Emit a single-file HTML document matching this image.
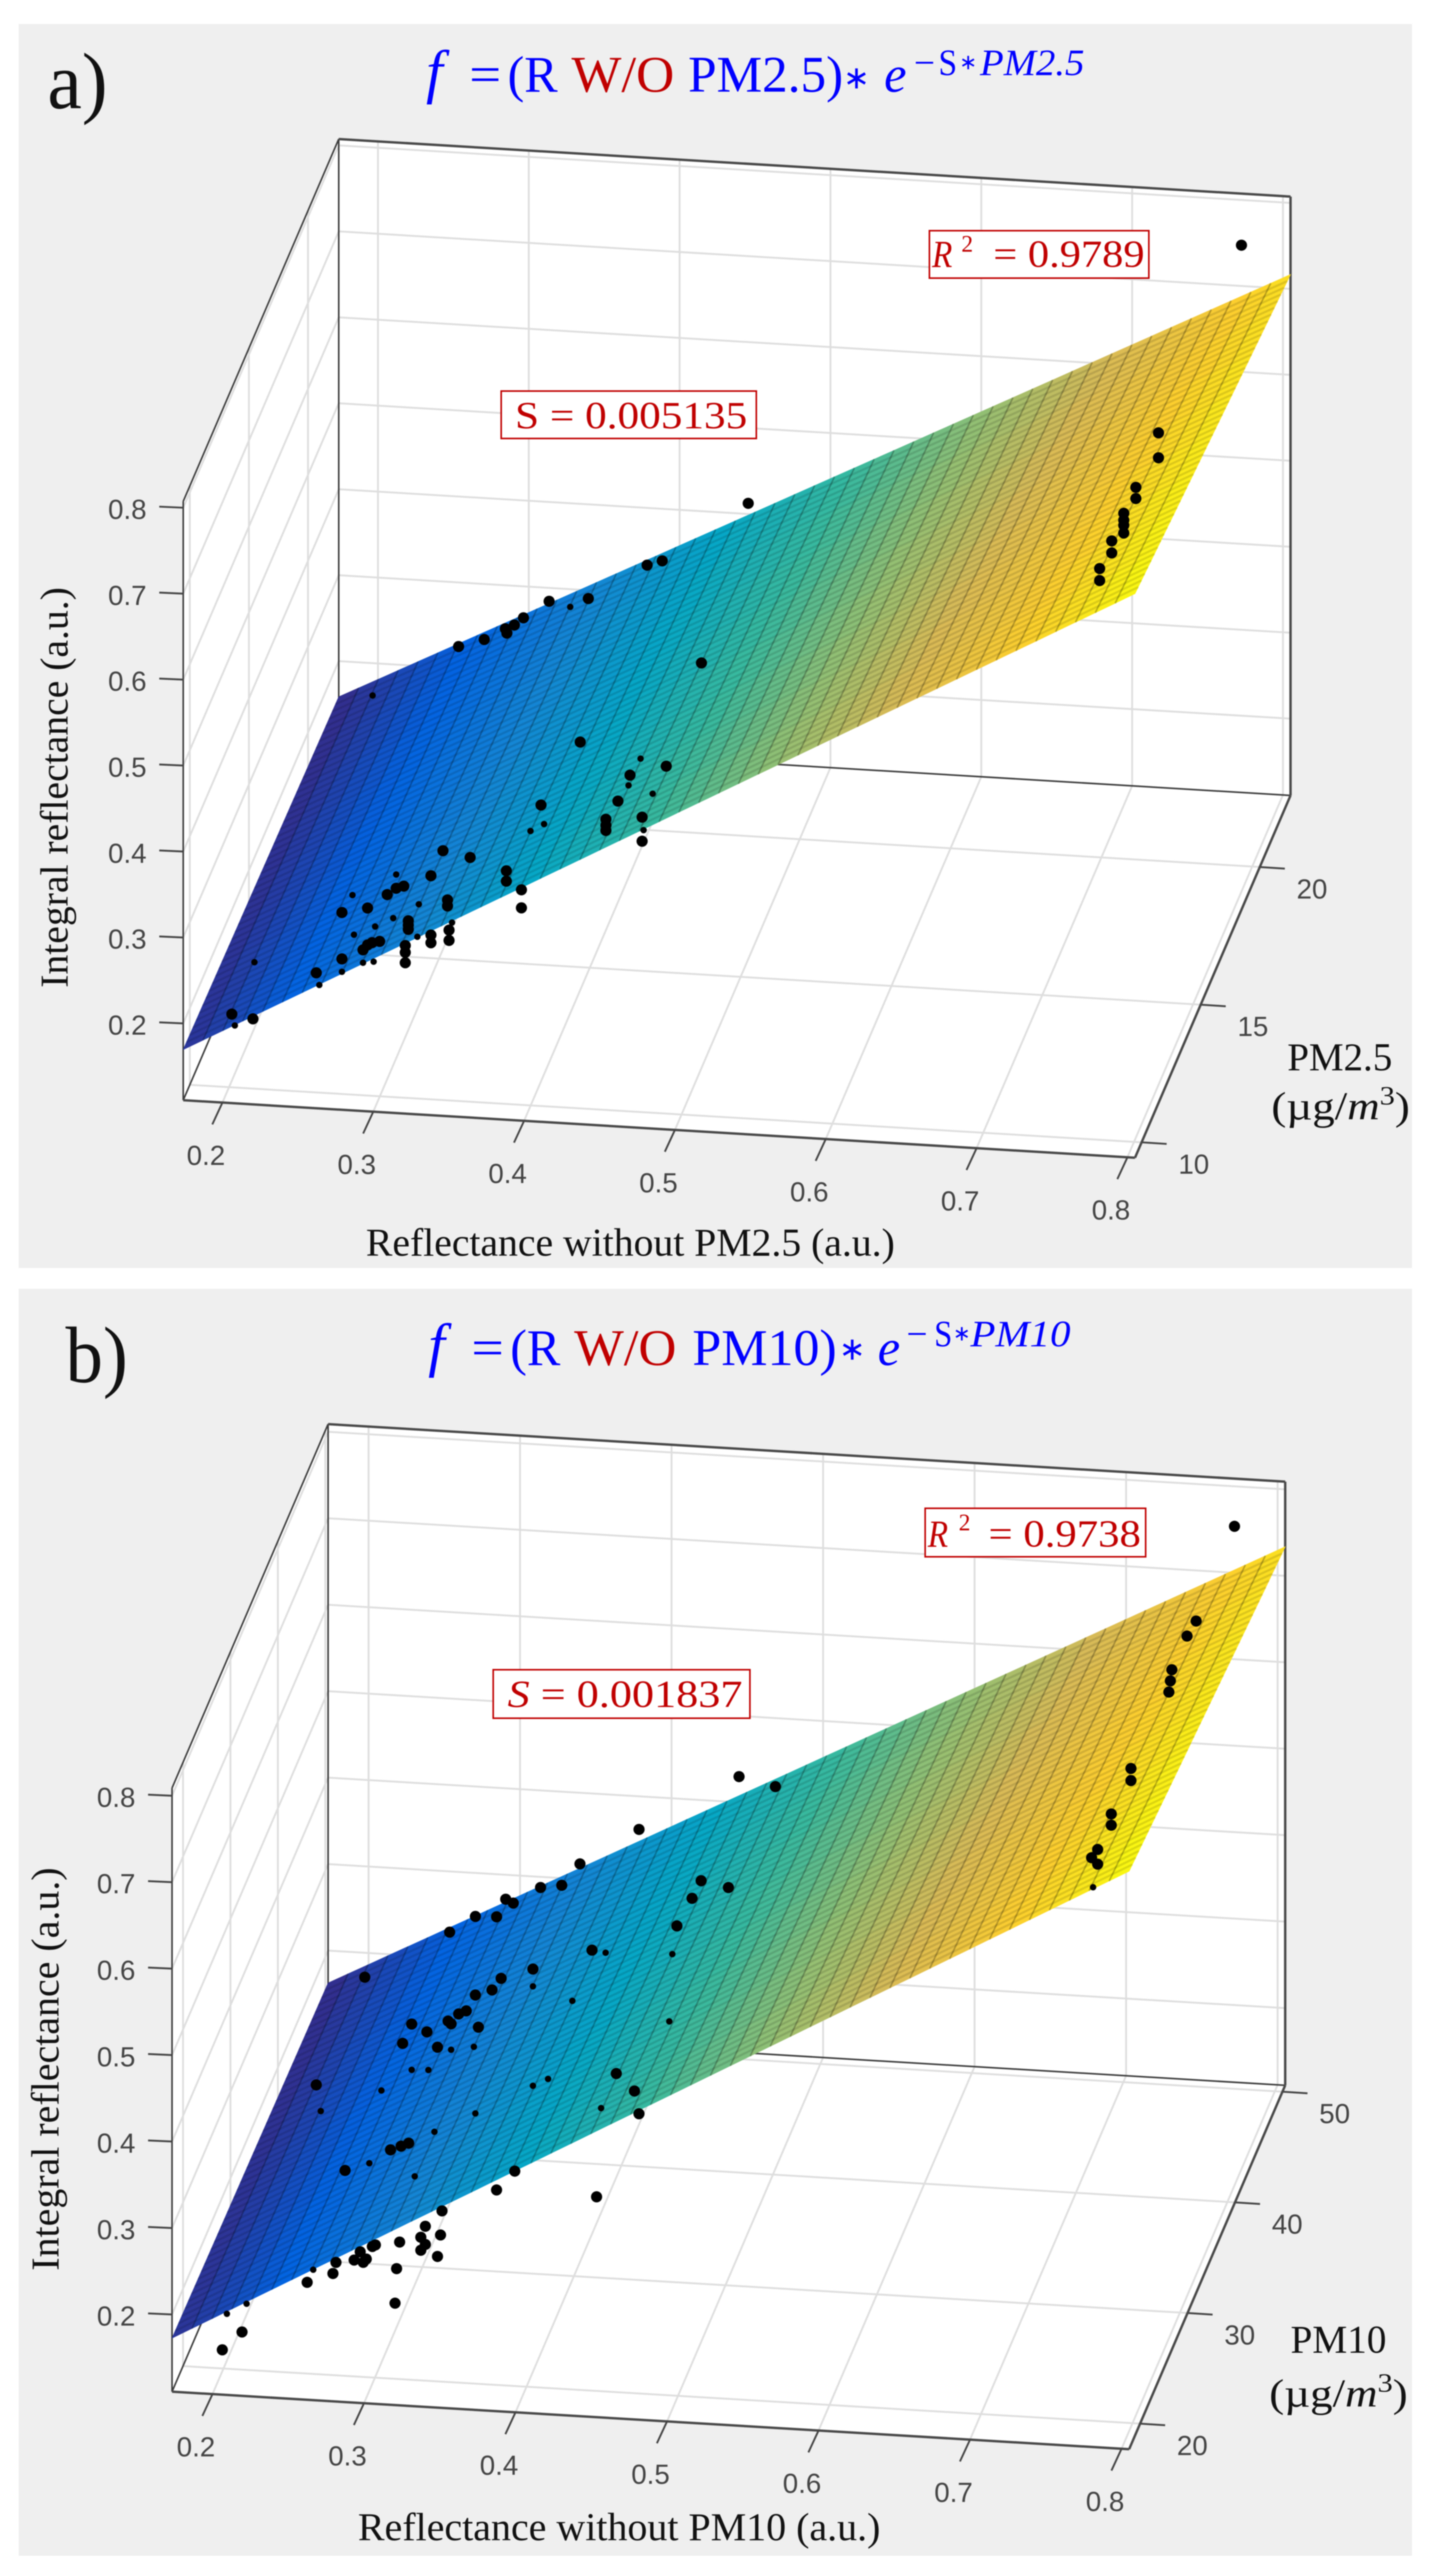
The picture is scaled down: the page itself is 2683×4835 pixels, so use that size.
<!DOCTYPE html>
<html lang="en">
<head>
<meta charset="utf-8">
<title>Integral reflectance fit surfaces for PM2.5 and PM10</title>
<style>
html,body{margin:0;padding:0;background:#fff}
svg{display:block;filter:blur(1px)}
.tk{font-family:"Liberation Sans",sans-serif;font-size:52px;fill:#444;text-anchor:middle}
.at{font-family:"Liberation Serif",serif;font-size:74px;fill:#111}
.ttl{font-family:"Liberation Serif",serif;font-size:96px}
.fn{font-family:"Liberation Serif",serif;font-size:112px;font-style:italic;fill:#0000ff}
.star{font-family:"DejaVu Sans",sans-serif;font-size:60px;fill:#0000ff}
.sup{font-family:"Liberation Serif",serif;font-size:70px;fill:#0000ff}
.supstar{font-family:"DejaVu Sans",sans-serif;font-size:40px;fill:#0000ff}
.blue{fill:#0000ff}.red{fill:#c00000}
.ann{font-family:"Liberation Serif",serif;font-size:72px;fill:#c00000}
.box{fill:#fff;stroke:#c00000;stroke-width:3}
.lab{font-family:"Liberation Serif",serif;font-size:150px;fill:#111}
</style>
</head>
<body>
<svg id="chart" xmlns="http://www.w3.org/2000/svg" width="2683" height="4835" viewBox="0 0 2683 4835">
  <rect x="0" y="0" width="2683" height="4835" fill="#ffffff"/>
  <rect x="35" y="45" width="2616" height="2335" fill="#efefef"/>
  <rect x="35" y="2419" width="2616" height="2378" fill="#efefef"/>
  <g id="plotA"></g>
  <g id="plotB"></g>

  <g>
    <text class="lab" x="89" y="203" textLength="113" lengthAdjust="spacingAndGlyphs">a)</text>
    <g>
      <text class="fn" x="800" y="172">f</text>
      <text class="ttl blue" x="881" y="172" textLength="60" lengthAdjust="spacingAndGlyphs">=</text>
      <text class="ttl blue" x="953" y="172" textLength="94" lengthAdjust="spacingAndGlyphs">(R</text>
      <text class="ttl red" x="1073" y="172" textLength="193" lengthAdjust="spacingAndGlyphs">W/O</text>
      <text class="ttl blue" x="1292" y="172" textLength="291" lengthAdjust="spacingAndGlyphs">PM2.5)</text>
      <text class="star" x="1583" y="166">∗</text>
      <text class="ttl blue" x="1660" y="172" font-style="italic" textLength="42" lengthAdjust="spacingAndGlyphs">e</text>
      <text class="sup" x="1716" y="141">−</text>
      <text class="sup" x="1762" y="141" textLength="35" lengthAdjust="spacingAndGlyphs">S</text>
      <text class="supstar" x="1801" y="130">∗</text>
      <text class="sup" x="1840" y="141" font-style="italic" textLength="196" lengthAdjust="spacingAndGlyphs">PM2.5</text>
    </g>
    <rect class="box" x="1745" y="433" width="412" height="89"/>
    <text class="ann" x="1750" y="501" font-style="italic" textLength="38" lengthAdjust="spacingAndGlyphs">R</text>
    <text class="ann" x="1805" y="472" style="font-size:44px">2</text>
    <text class="ann" x="1865" y="501" textLength="284" lengthAdjust="spacingAndGlyphs">= 0.9789</text>
    <rect class="box" x="941" y="734" width="479" height="89"/>
    <text class="ann" x="967" y="804" textLength="436" lengthAdjust="spacingAndGlyphs">S = 0.005135</text>
    <text class="at" x="687" y="2357" textLength="993" lengthAdjust="spacingAndGlyphs">Reflectance without PM2.5 (a.u.)</text>
    <text class="at" transform="translate(127,1854) rotate(-90)" textLength="752" lengthAdjust="spacingAndGlyphs">Integral reflectance (a.u.)</text>
    <text class="at" x="2417" y="2009" textLength="197" lengthAdjust="spacingAndGlyphs">PM2.5</text>
    <text class="at" x="2387" y="2101" textLength="260" lengthAdjust="spacingAndGlyphs">(µg/<tspan font-style="italic">m</tspan><tspan dy="-28" style="font-size:50px">3</tspan><tspan dy="28">)</tspan></text>
  </g>

  <g>
    <text class="lab" x="123" y="2594" textLength="117" lengthAdjust="spacingAndGlyphs">b)</text>
    <g>
      <text class="fn" x="804" y="2562">f</text>
      <text class="ttl blue" x="885" y="2562" textLength="61" lengthAdjust="spacingAndGlyphs">=</text>
      <text class="ttl blue" x="958" y="2562" textLength="94" lengthAdjust="spacingAndGlyphs">(R</text>
      <text class="ttl red" x="1078" y="2562" textLength="192" lengthAdjust="spacingAndGlyphs">W/O</text>
      <text class="ttl blue" x="1300" y="2562" textLength="271" lengthAdjust="spacingAndGlyphs">PM10)</text>
      <text class="star" x="1575" y="2552">∗</text>
      <text class="ttl blue" x="1648" y="2562" font-style="italic" textLength="42" lengthAdjust="spacingAndGlyphs">e</text>
      <text class="sup" x="1702" y="2527">−</text>
      <text class="sup" x="1754" y="2527" textLength="34" lengthAdjust="spacingAndGlyphs">S</text>
      <text class="supstar" x="1789" y="2516">∗</text>
      <text class="sup" x="1822" y="2527" font-style="italic" textLength="188" lengthAdjust="spacingAndGlyphs">PM10</text>
    </g>
    <rect class="box" x="1737" y="2831" width="414" height="91"/>
    <text class="ann" x="1742" y="2903" font-style="italic" textLength="38" lengthAdjust="spacingAndGlyphs">R</text>
    <text class="ann" x="1800" y="2872" style="font-size:44px">2</text>
    <text class="ann" x="1856" y="2903" textLength="286" lengthAdjust="spacingAndGlyphs">= 0.9738</text>
    <rect class="box" x="926" y="3134" width="482" height="91"/>
    <text class="ann" x="953" y="3204" textLength="441" lengthAdjust="spacingAndGlyphs"><tspan font-style="italic">S</tspan> = 0.001837</text>
    <text class="at" x="672" y="4768" textLength="981" lengthAdjust="spacingAndGlyphs">Reflectance without PM10 (a.u.)</text>
    <text class="at" transform="translate(110,4262) rotate(-90)" textLength="757" lengthAdjust="spacingAndGlyphs">Integral reflectance (a.u.)</text>
    <text class="at" x="2423" y="4416" textLength="180" lengthAdjust="spacingAndGlyphs">PM10</text>
    <text class="at" x="2383" y="4517" textLength="260" lengthAdjust="spacingAndGlyphs">(µg/<tspan font-style="italic">m</tspan><tspan dy="-28" style="font-size:50px">3</tspan><tspan dy="28">)</tspan></text>
  </g>
</svg>
<script>
// ---------- shared tick values ----------
const reflectanceTicks = [0.2, 0.3, 0.4, 0.5, 0.6, 0.7, 0.8];
const integralTicks = [0.2, 0.3, 0.4, 0.5, 0.6, 0.7, 0.8];
const pmTicksA = [10, 15, 20];
const pmTicksB = [20, 30, 40, 50];

// ---------- axis limits ----------
const reflectanceLimitsA = [0.174, 0.805];
const pmLimitsA = [9.44, 22.6];
const integralLimitsA = [0.1107, 0.8074];
const reflectanceLimitsB = [0.1733, 0.805];
const pmLimitsB = [17.69, 50.58];
const integralLimitsB = [0.1107, 0.8089];

// ---------- fit coefficients printed in the figure ----------
const fitSlopeA = [0.005135];
const fitSlopeB = [0.001837];
// surface height above the plain fit at the low-reflectance edge
const surfaceLiftA = [0.004];
const surfaceLiftB = [0.005];

// ---------- panel a scatter, grouped by estimated PM2.5 level ----------
const pmBackA = [21];
const reflectBackA = [0.785,0.458,0.427,0.401,0.391,0.352,0.326,0.309,0.303,0.297,0.298,0.283,0.266];
const integralBackA = [0.800,0.465,0.276,0.392,0.386,0.343,0.337,0.316,0.307,0.302,0.297,0.288,0.278];
const reflectBackHiddenA = [0.340,0.209];
const integralBackHiddenA = [0.332,0.215];

const pmMidA = [15];
const reflectMidA = [0.777,0.777,0.762,0.762,0.754,0.754,0.754,0.754,0.746,0.746,0.738,0.738];
const integralMidA = [0.773,0.744,0.708,0.695,0.677,0.669,0.663,0.654,0.644,0.630,0.611,0.597];

const pmFrontA = [11];
const reflectFrontA = [0.425,0.482,0.458,0.450,0.466,0.466,0.442,0.442,0.442,0.399,0.352,0.334,0.326,0.376,0.376,0.386,0.386,0.308,0.303,0.297,0.267,0.284,0.337,0.337,0.311,0.311,0.311,0.292,0.287,0.284,0.281,0.267,0.250,0.194,0.208,0.309,0.309,0.309,0.326,0.326,0.338,0.338];
const integralFrontA = [0.504,0.482,0.469,0.438,0.421,0.393,0.416,0.409,0.403,0.428,0.362,0.368,0.338,0.349,0.337,0.328,0.307,0.324,0.321,0.313,0.289,0.296,0.311,0.304,0.284,0.279,0.274,0.258,0.256,0.253,0.247,0.235,0.217,0.163,0.159,0.255,0.247,0.235,0.269,0.260,0.276,0.264];
const reflectFrontHiddenA = [0.465,0.457,0.473,0.467,0.401,0.392,0.303,0.274,0.318,0.301,0.289,0.275,0.288,0.281,0.267,0.252,0.209,0.196,0.317,0.340];
const integralFrontHiddenA = [0.489,0.457,0.449,0.406,0.406,0.397,0.337,0.310,0.304,0.286,0.275,0.264,0.234,0.232,0.220,0.203,0.225,0.150,0.266,0.285];

// ---------- panel b scatter, grouped by estimated PM10 level ----------
const pmBackB = [45];
const reflectBackB = [0.789,0.462,0.486,0.396,0.357,0.345,0.331,0.308,0.313,0.302,0.288,0.271,0.215,0.437,0.455,0.431,0.421];
const integralBackB = [0.827,0.503,0.494,0.435,0.391,0.365,0.361,0.345,0.341,0.324,0.323,0.303,0.245,0.380,0.374,0.359,0.326];

const pmMidB = [35];
const reflectMidB = [0.795,0.789,0.779,0.778,0.777,0.752,0.752,0.739,0.739,0.730,0.726,0.730];
const integralMidB = [0.846,0.828,0.788,0.775,0.762,0.671,0.657,0.617,0.604,0.575,0.565,0.558];
const reflectMidHiddenB = [0.727];
const integralMidHiddenB = [0.531];

const pmFrontB = [22];
const reflectFrontB = [0.437,0.398,0.377,0.371,0.360,0.354,0.349,0.362,0.342,0.344,0.318,0.328,0.312,0.335,0.453,0.465,0.468,0.255,0.304,0.311,0.316,0.274,0.374,0.440,0.338,0.327,0.337,0.324,0.327,0.324,0.310,0.335,0.294,0.292,0.284,0.288,0.286,0.280,0.268,0.308,0.266,0.249,0.307,0.206,0.193,0.386];
const integralFrontB = [0.594,0.568,0.555,0.541,0.534,0.515,0.511,0.497,0.502,0.499,0.496,0.488,0.473,0.471,0.453,0.434,0.408,0.419,0.349,0.354,0.358,0.322,0.310,0.309,0.282,0.263,0.254,0.250,0.242,0.235,0.243,0.229,0.238,0.236,0.229,0.221,0.217,0.219,0.215,0.212,0.202,0.190,0.172,0.128,0.106,0.333];
const reflectFrontHiddenB = [0.490,0.446,0.424,0.398,0.359,0.344,0.488,0.443,0.360,0.333,0.290,0.258,0.398,0.408,0.253,0.209,0.196,0.320,0.298,0.318,0.329];
const integralFrontHiddenB = [0.595,0.592,0.534,0.548,0.474,0.469,0.517,0.412,0.397,0.373,0.332,0.389,0.433,0.442,0.205,0.161,0.148,0.320,0.417,0.443,0.444];

// ---------- colour map used for the surface ----------
const parulaStops = ['#352a87','#0363e1','#1485d4','#06a7c6','#38b99e','#92bf73','#d9ba56','#fcce2e','#f9fb0e'];

const SVG_NS = 'http://www.w3.org/2000/svg';
const MESH_COLUMNS = 48;
const MESH_ROWS = 48;
const FILL_ROWS = 8;

function hexToRgb(h){ return [parseInt(h.slice(1,3),16),parseInt(h.slice(3,5),16),parseInt(h.slice(5,7),16)]; }
function parula(t){
  const c = Math.max(0,Math.min(1,t))*(parulaStops.length-1);
  const i = Math.min(parulaStops.length-2,Math.floor(c));
  const f = c-i, a = hexToRgb(parulaStops[i]), b = hexToRgb(parulaStops[i+1]);
  return 'rgb('+a.map(function(v,k){return Math.round(v+(b[k]-v)*f);}).join(',')+')';
}
function make(tag, attrs, parent){
  const el = document.createElementNS(SVG_NS, tag);
  for (const k in attrs) el.setAttribute(k, attrs[k]);
  parent.appendChild(el);
  return el;
}

function drawPanel(p){
  const host = document.getElementById(p.host);
  function project(x, pm, z){
    const u = (x-p.xLim[0])/(p.xLim[1]-p.xLim[0]);
    const v = (pm-p.pmLim[0])/(p.pmLim[1]-p.pmLim[0]);
    const w = (z-p.zLim[0])/(p.zLim[1]-p.zLim[0]);
    return [p.origin[0]+u*p.xVec[0]+v*p.pmVec[0], p.origin[1]+u*p.xVec[1]+v*p.pmVec[1]-w*p.height];
  }
  const x0=p.xLim[0], x1=p.xLim[1], m0=p.pmLim[0], m1=p.pmLim[1], z0=p.zLim[0], z1=p.zLim[1];
  const pts = function(list){ return list.map(function(q){return q[0].toFixed(1)+','+q[1].toFixed(1);}).join(' '); };

  // walls
  const walls = make('polygon',{fill:'#ffffff',points:pts([project(x0,m0,z1),project(x0,m1,z1),project(x1,m1,z1),project(x1,m1,z0),project(x1,m0,z0),project(x0,m0,z0)])},host);
  
  

  // grid
  let gridPath = '';
  function seg(a,b){ return 'M'+a[0].toFixed(1)+' '+a[1].toFixed(1)+'L'+b[0].toFixed(1)+' '+b[1].toFixed(1); }
  p.xTicks.forEach(function(t){
    gridPath += seg(project(t,m0,z0),project(t,m1,z0)) + seg(project(t,m1,z0),project(t,m1,z1));
  });
  p.pmTicks.forEach(function(t){
    gridPath += seg(project(x1,t,z0),project(x0,t,z0)) + seg(project(x0,t,z0),project(x0,t,z1));
  });
  p.zTicks.forEach(function(t){
    gridPath += seg(project(x0,m0,t),project(x0,m1,t)) + seg(project(x0,m1,t),project(x1,m1,t));
  });
  const grid = make('path',{d:gridPath,fill:'none',stroke:'#dedede','stroke-width':3.5},host);
  
  

  // box edges
  const boxThin = seg(project(x0,m0,z0),project(x0,m0,z1)) + seg(project(x0,m0,z1),project(x0,m1,z1)) + seg(project(x0,m1,z1),project(x0,m1,z0)) + seg(project(x0,m0,z0),project(x0,m1,z0)) + seg(project(x0,m1,z0),project(x1,m1,z0));
  const thin = make('path',{d:boxThin,fill:'none',stroke:'#3c3c3c','stroke-width':3},host);
  
  
  const boxBold = seg(project(x0,m1,z1),project(x1,m1,z1)) + seg(project(x1,m1,z1),project(x1,m1,z0)) + seg(project(x0,m0,z0),project(x1,m0,z0)) + seg(project(x1,m0,z0),project(x1,m1,z0));
  const bold = make('path',{d:boxBold,fill:'none',stroke:'#484848','stroke-width':4.5},host);
  
  

  // ticks and labels
  p.zTicks.forEach(function(t){
    const a = project(x0,m0,t);
    const tick = make('path',{d:'M'+a[0]+' '+a[1]+'L'+(a[0]-45)+' '+(a[1]-2),stroke:'#444','stroke-width':3.5,fill:'none'},host);
    
    
    const lab = make('text',{class:'tk',x:a[0]-105,y:a[1]+21},host);
    lab.textContent = t.toFixed(1);
    
    
  });
  p.xTicks.forEach(function(t){
    const a = project(t,m0,z0);
    const tick = make('path',{d:'M'+a[0]+' '+a[1]+'L'+(a[0]-19)+' '+(a[1]+41),stroke:'#444','stroke-width':3.5,fill:'none'},host);
    
    
    const lab = make('text',{class:'tk',x:a[0]-31,y:a[1]+117},host);
    lab.textContent = t.toFixed(1);
    
    
  });
  p.pmTicks.forEach(function(t){
    const a = project(x1,t,z0);
    const tick = make('path',{d:'M'+a[0]+' '+a[1]+'L'+(a[0]+47)+' '+(a[1]+3),stroke:'#444','stroke-width':3.5,fill:'none'},host);
    
    
    const lab = make('text',{class:'tk',x:a[0]+98,y:a[1]+59},host);
    lab.textContent = String(t);
    
    
  });

  // fitted surface
  const fit = function(x,pm){ return (x + p.lift[0]*(x1-x)/(x1-x0))*Math.exp(-p.slope[0]*pm); };
  const colorLo = fit(x0,m1), colorHi = fit(x1,m0);
  const surface = make('g',{},host);
  
  
  for (let i=0;i<MESH_COLUMNS;i++){
    const xa = x0+(x1-x0)*i/MESH_COLUMNS, xb = x0+(x1-x0)*(i+1)/MESH_COLUMNS;
    for (let j=0;j<FILL_ROWS;j++){
      const ma = m0+(m1-m0)*j/FILL_ROWS, mb = m0+(m1-m0)*(j+1)/FILL_ROWS;
      const col = parula((fit((xa+xb)/2,(ma+mb)/2)-colorLo)/(colorHi-colorLo));
      const cell = make('polygon',{fill:col,stroke:col,'stroke-width':1,points:pts([project(xa,ma,fit(xa,ma)),project(xb,ma,fit(xb,ma)),project(xb,mb,fit(xb,mb)),project(xa,mb,fit(xa,mb))])},surface);
      
      
    }
  }
  let colLines='', rowLines='';
  for (let i=1;i<MESH_COLUMNS;i++){
    const x = x0+(x1-x0)*i/MESH_COLUMNS;
    colLines += seg(project(x,m0,fit(x,m0)),project(x,m1,fit(x,m1)));
  }
  for (let j=1;j<MESH_ROWS;j++){
    const m = m0+(m1-m0)*j/MESH_ROWS;
    rowLines += seg(project(x0,m,fit(x0,m)),project(x1,m,fit(x1,m)));
  }
  const rowMesh = make('path',{d:rowLines,fill:'none',stroke:'#000','stroke-opacity':0.12,'stroke-width':4},surface);
  
  
  const colMesh = make('path',{d:colLines,fill:'none',stroke:'#000','stroke-opacity':0.26,'stroke-width':3},surface);
  
  

  // scatter points
  const points = make('g',{fill:'#000'},host);
  
  
  p.series.forEach(function(s){
    s.x.forEach(function(x,i){
      const q = project(x,s.pm[0],s.z[i]);
      const dot = make('circle',{cx:q[0].toFixed(1),cy:q[1].toFixed(1),r:s.hidden?6:10.5},points);
      
      
    });
  });
}

drawPanel({
  host:'plotA', origin:[344,2065], xVec:[1787,108], pmVec:[292,-680], height:1124,
  xLim:reflectanceLimitsA, pmLim:pmLimitsA, zLim:integralLimitsA, slope:fitSlopeA, lift:surfaceLiftA,
  xTicks:reflectanceTicks, pmTicks:pmTicksA, zTicks:integralTicks,
  series:[
    {x:reflectBackA,z:integralBackA,pm:pmBackA},
    {x:reflectBackHiddenA,z:integralBackHiddenA,pm:pmBackA,hidden:true},
    {x:reflectMidA,z:integralMidA,pm:pmMidA},
    {x:reflectFrontA,z:integralFrontA,pm:pmFrontA},
    {x:reflectFrontHiddenA,z:integralFrontHiddenA,pm:pmFrontA,hidden:true}
  ]
});
drawPanel({
  host:'plotB', origin:[323,4489], xVec:[1797,108], pmVec:[293,-683], height:1133,
  xLim:reflectanceLimitsB, pmLim:pmLimitsB, zLim:integralLimitsB, slope:fitSlopeB, lift:surfaceLiftB,
  xTicks:reflectanceTicks, pmTicks:pmTicksB, zTicks:integralTicks,
  series:[
    {x:reflectBackB,z:integralBackB,pm:pmBackB},
    {x:reflectMidB,z:integralMidB,pm:pmMidB},
    {x:reflectMidHiddenB,z:integralMidHiddenB,pm:pmMidB,hidden:true},
    {x:reflectFrontB,z:integralFrontB,pm:pmFrontB},
    {x:reflectFrontHiddenB,z:integralFrontHiddenB,pm:pmFrontB,hidden:true}
  ]
});
</script>
</body>
</html>
